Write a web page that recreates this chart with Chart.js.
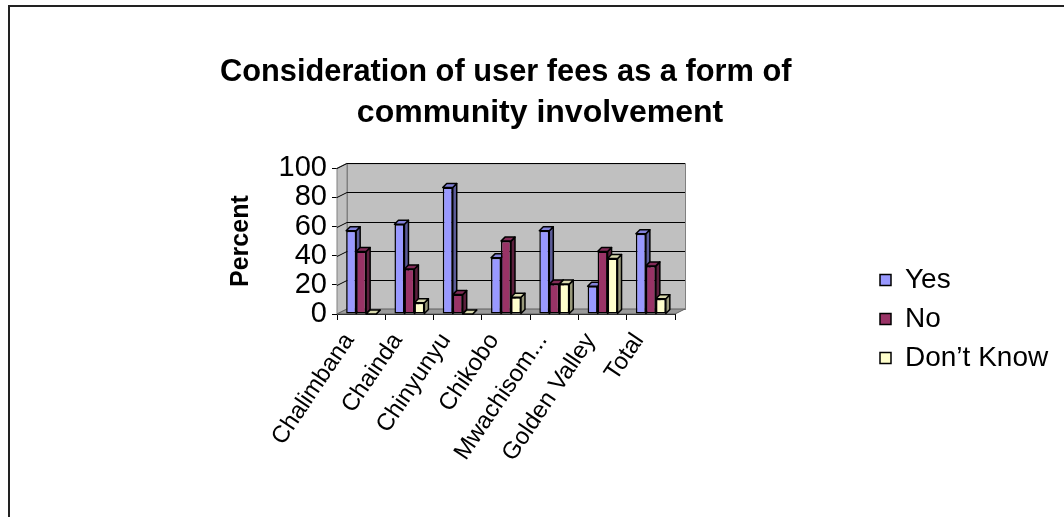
<!DOCTYPE html>
<html>
<head>
<meta charset="utf-8">
<title>Consideration of user fees as a form of community involvement</title>
<script src="https://cdn.jsdelivr.net/npm/chart.js@4.4.1/dist/chart.umd.min.js"></script>
<style>
  html, body { margin: 0; padding: 0; background: #ffffff; }
  #wrap { width: 1064px; height: 517px; position: relative; }
</style>
</head>
<body>
<div id="wrap"><canvas id="chart" width="1064" height="517"></canvas></div>
<script>
// ---- data ----
const categories = ['Chalimbana', 'Chainda', 'Chinyunyu', 'Chikobo', 'Mwachisom...', 'Golden Valley', 'Total'];
const seriesNames = ['Yes', 'No', 'Don\u2019t Know'];
const yesValues = [57.1, 61.5, 86.7, 38.5, 57.1, 19.0, 55.0];
const noValues = [42.9, 30.8, 13.3, 50.0, 20.5, 42.9, 33.0];
const dontKnowValues = [0, 7.7, 0, 11.5, 20.5, 38.1, 10.5];
const yTickValues = [0, 20, 40, 60, 80, 100];
// first title line keeps its trailing spaces, as typed in the workbook
const titleLines = ['Consideration of user fees as a form of        ', 'community involvement'];

// ---- styling ----
const FONT = '"Liberation Sans", Arial, sans-serif';
const seriesColors = ['#9999FF', '#993366', '#FFFFCC'];
const WALL = { dx: 10, dy: 5 };      // depth of the back wall
const BAR = { dx: 4, dy: 4 };        // depth of each bar

function shade(hex, f) {
  const n = parseInt(hex.slice(1), 16);
  const r = Math.round(((n >> 16) & 255) * f);
  const g = Math.round(((n >> 8) & 255) * f);
  const b = Math.round((n & 255) * f);
  return `rgb(${r},${g},${b})`;
}

// Gray walls, floor and gridlines of the 3-D plot box, plus bar depth faces.
const box3d = {
  id: 'box3d',
  beforeDatasetsDraw(chart) {
    const { ctx, chartArea: a } = chart;
    const ys = chart.scales.y;
    const { dx, dy } = WALL;
    ctx.save();
    // side wall
    ctx.beginPath();
    ctx.moveTo(a.left, a.top); ctx.lineTo(a.left + dx, a.top - dy);
    ctx.lineTo(a.left + dx, a.bottom - dy); ctx.lineTo(a.left, a.bottom);
    ctx.closePath();
    ctx.fillStyle = '#c0c0c0'; ctx.fill();
    ctx.strokeStyle = '#808080'; ctx.lineWidth = 1; ctx.stroke();
    // back wall
    ctx.fillStyle = '#c0c0c0';
    ctx.fillRect(a.left + dx, a.top - dy, a.right - a.left, a.bottom - a.top);
    ctx.strokeStyle = '#808080';
    ctx.strokeRect(a.left + dx + 0.5, a.top - dy + 0.5, a.right - a.left, a.bottom - a.top);
    // floor
    ctx.beginPath();
    ctx.moveTo(a.left, a.bottom); ctx.lineTo(a.left + dx, a.bottom - dy);
    ctx.lineTo(a.right + dx, a.bottom - dy); ctx.lineTo(a.right, a.bottom);
    ctx.closePath();
    ctx.fillStyle = '#9a9a9a'; ctx.fill();
    ctx.strokeStyle = '#606060'; ctx.stroke();
    // gridlines on side and back walls
    ctx.strokeStyle = '#000000'; ctx.lineWidth = 1;
    yTickValues.forEach(v => {
      if (v === 0) return;
      const y = Math.round(ys.getPixelForValue(v)) + 0.5;
      ctx.beginPath();
      ctx.moveTo(a.left, y);
      ctx.lineTo(a.left + dx, y - dy);
      ctx.lineTo(a.right + dx, y - dy);
      ctx.stroke();
    });
    // depth faces of bars (front faces are drawn by the bar controller)
    chart.data.datasets.forEach((ds, di) => {
      const meta = chart.getDatasetMeta(di);
      const base = seriesColors[di];
      meta.data.forEach(bar => {
        const p = bar.getProps(['x', 'y', 'base', 'width'], true);
        const l = p.x - p.width / 2, r = p.x + p.width / 2;
        const t = Math.min(p.y, p.base), b = Math.max(p.y, p.base);
        ctx.lineWidth = 1.5; ctx.strokeStyle = '#000000'; ctx.lineJoin = 'round';
        // right side
        ctx.beginPath();
        ctx.moveTo(r, t); ctx.lineTo(r + BAR.dx, t - BAR.dy);
        ctx.lineTo(r + BAR.dx, b - BAR.dy); ctx.lineTo(r, b); ctx.closePath();
        ctx.fillStyle = shade(base, 0.6); ctx.fill(); ctx.stroke();
        // top
        ctx.beginPath();
        ctx.moveTo(l, t); ctx.lineTo(l + BAR.dx, t - BAR.dy);
        ctx.lineTo(r + BAR.dx, t - BAR.dy); ctx.lineTo(r, t); ctx.closePath();
        ctx.fillStyle = shade(base, 0.85); ctx.fill(); ctx.stroke();
      });
    });
    ctx.restore();
  },
  afterDraw(chart) {
    const { ctx } = chart;
    ctx.save();
    // outer chart frame
    ctx.strokeStyle = '#222222'; ctx.lineWidth = 2;
    ctx.strokeRect(9, 6, 1300, 1300);
    // legend frame
    const hb = chart.legend.legendHitBoxes;
    if (hb && hb.length) {
      const first = hb[0], last = hb[hb.length - 1];
      const top = first.top + first.height / 2 - 22;
      const bottom = last.top + last.height / 2 + 9;
      ctx.strokeStyle = '#000000'; ctx.lineWidth = 1;
      ctx.strokeRect(first.left - 5.5, Math.round(top) + 0.5, 400, Math.round(bottom - top));
    }
    ctx.restore();
  }
};

// Legend gets a fixed slot in the layout and sits beside the plot, lower down.
const legendSlot = {
  id: 'legendSlot',
  afterInit(chart) {
    const lg = chart.legend;
    const fit = lg.fit;
    lg.fit = function () { fit.call(this); this.width = 185; };
  },
  afterUpdate(chart) {
    const lg = chart.legend;
    lg.left = 869; lg.right = 1064;
    lg.top = 255; lg.bottom = 517;
    lg.width = lg.right - lg.left; lg.height = lg.bottom - lg.top;
    lg.adjustHitBoxes();
  }
};

const datasets = [yesValues, noValues, dontKnowValues].map((vals, i) => ({
  label: seriesNames[i],
  data: vals,
  backgroundColor: seriesColors[i],
  borderColor: '#000000',
  borderWidth: 1.5,
  borderSkipped: false
}));

new Chart(document.getElementById('chart'), {
  type: 'bar',
  data: { labels: categories, datasets },
  plugins: [box3d, legendSlot],
  options: {
    responsive: false,
    devicePixelRatio: 1,
    animation: false,
    events: [],
    layout: { padding: { left: 220, right: 204, top: 0, bottom: 3 } },
    datasets: { bar: { categoryPercentage: 0.62, barPercentage: 1.0 } },
    plugins: {
      title: {
        display: true,
        text: titleLines,
        color: '#000000',
        font: { family: FONT, size: 32, weight: 'bold', lineHeight: 1.3 },
        padding: { top: 51, bottom: 34 }
      },
      legend: {
        display: true,
        position: 'right',
        align: 'start',
        labels: {
          color: '#000000',
          font: { family: FONT, size: 28 },
          boxWidth: 11, boxHeight: 11,
          padding: 11
        }
      },
      tooltip: { enabled: false }
    },
    scales: {
      x: {
        afterFit: s => { s.height = 200; },
        grid: { display: true, drawOnChartArea: false, drawTicks: true, tickLength: 6, color: '#000000', offset: true },
        border: { display: true, color: '#000000', width: 1 },
        ticks: {
          color: '#000000',
          font: { family: FONT, size: 24 },
          autoSkip: false, minRotation: 56, maxRotation: 56,
          padding: 8, labelOffset: -12
        }
      },
      y: {
        min: 0, max: 100,
        afterFit: s => { s.width = 117; },
        afterBuildTicks: s => { s.ticks = yTickValues.map(v => ({ value: v })); },
        grid: { display: true, drawOnChartArea: false, drawTicks: true, tickLength: 5, color: '#000000' },
        border: { display: true, color: '#000000', width: 1 },
        ticks: { color: '#000000', font: { family: FONT, size: 29 }, padding: 5, autoSkip: false },
        title: {
          display: true, text: 'Percent', color: '#000000',
          font: { family: FONT, size: 25, weight: 'bold' },
          padding: { top: 6, bottom: 0 }
        }
      }
    }
  }
});
</script>
</body>
</html>
